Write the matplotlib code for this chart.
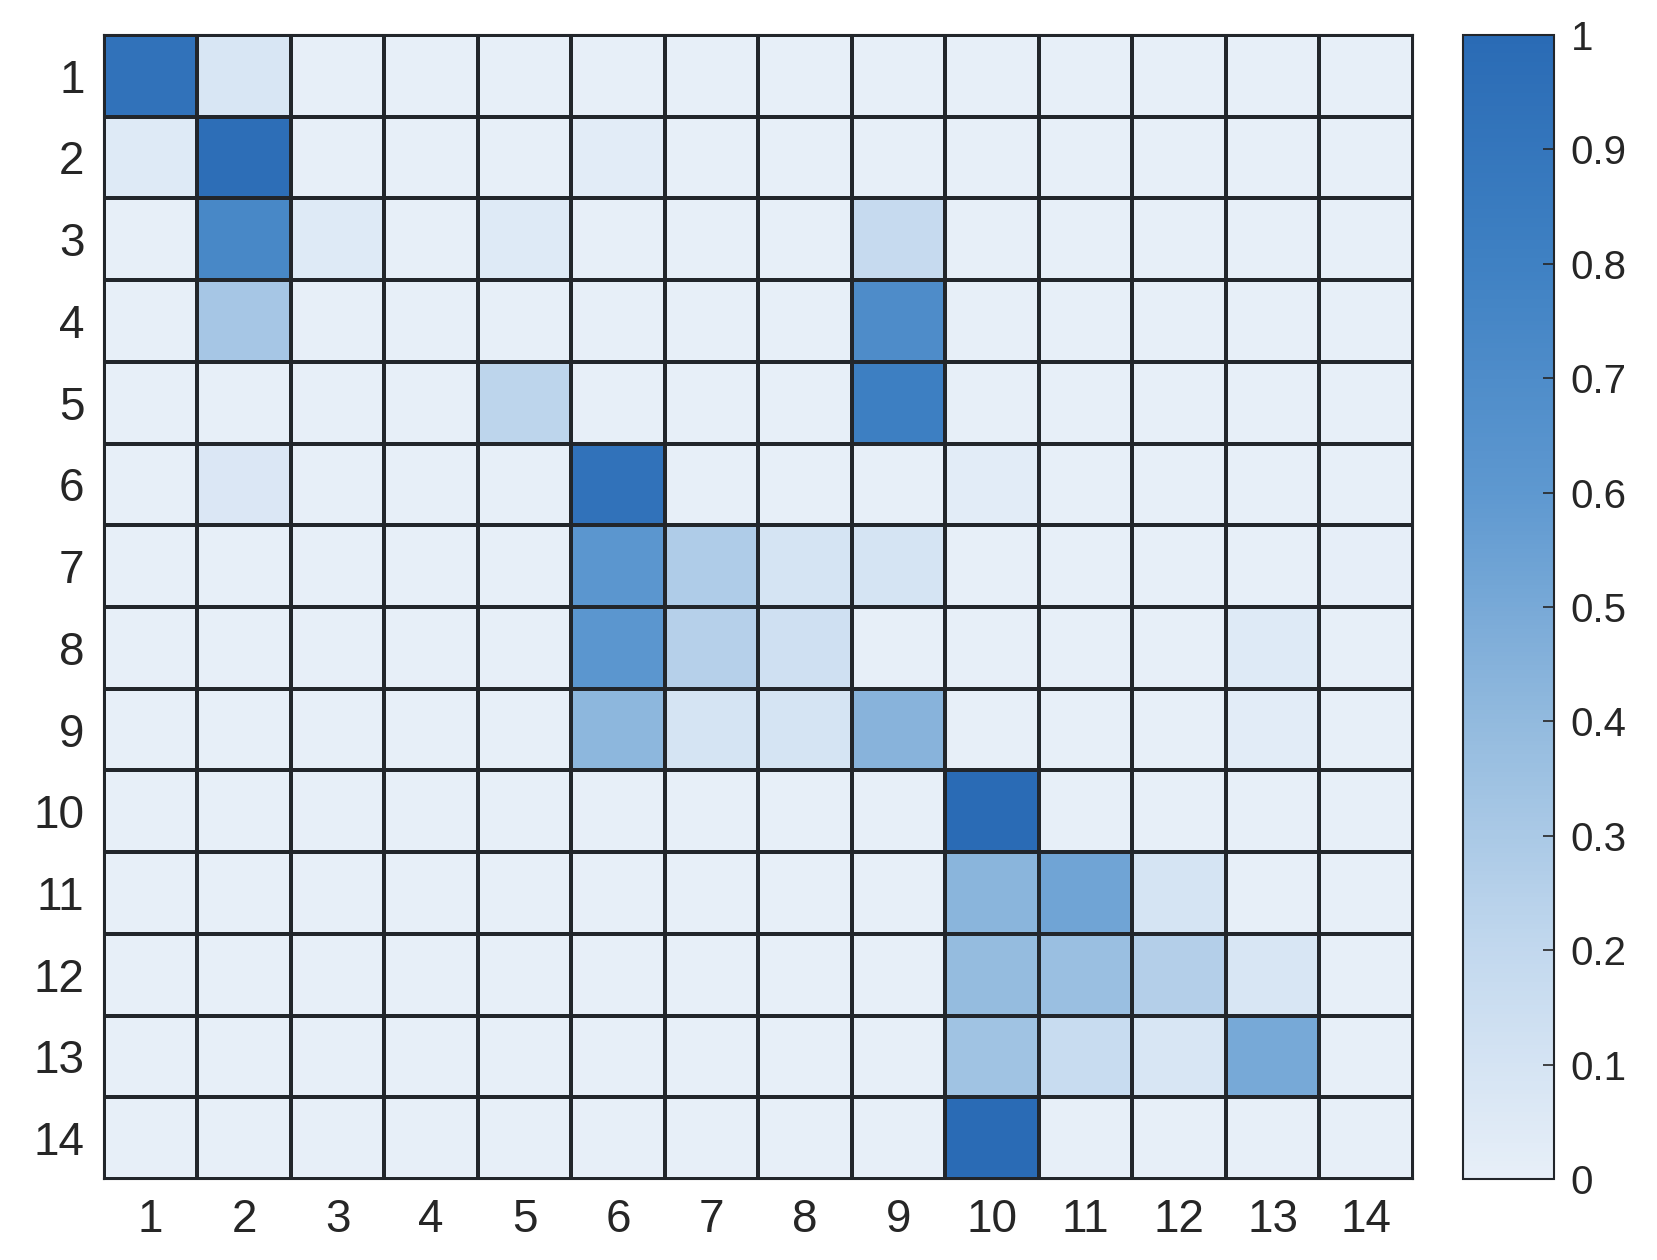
import matplotlib
matplotlib.use('Agg')
import matplotlib.pyplot as plt
import numpy as np
from matplotlib.colors import LinearSegmentedColormap

plt.rcParams['font.family'] = ['Liberation Sans', 'DejaVu Sans']

labels = [str(i) for i in range(1, 15)]

# row values (row i -> list of 14 columns)
row1 = [0.93, 0.08, 0, 0, 0, 0, 0, 0, 0, 0, 0, 0, 0, 0]
row2 = [0.05, 0.97, 0, 0, 0, 0.03, 0, 0, 0, 0, 0, 0, 0, 0]
row3 = [0, 0.74, 0.05, 0, 0.05, 0, 0, 0, 0.18, 0, 0, 0, 0, 0]
row4 = [0, 0.32, 0, 0, 0, 0, 0, 0, 0.70, 0, 0, 0, 0, 0]
row5 = [0, 0, 0, 0, 0.22, 0, 0, 0, 0.82, 0, 0, 0, 0, 0]
row6 = [0, 0.07, 0, 0, 0, 0.93, 0, 0, 0, 0.03, 0, 0, 0, 0]
row7 = [0, 0, 0, 0, 0, 0.62, 0.28, 0.10, 0.10, 0, 0, 0, 0, 0.01]
row8 = [0, 0, 0, 0, 0, 0.62, 0.25, 0.13, 0, 0, 0, 0, 0.05, 0]
row9 = [0, 0, 0, 0, 0, 0.42, 0.10, 0.10, 0.44, 0, 0, 0, 0.03, 0]
row10 = [0, 0, 0, 0, 0, 0, 0, 0, 0, 1.0, 0, 0, 0, 0]
row11 = [0, 0, 0, 0, 0, 0, 0, 0, 0, 0.43, 0.53, 0.10, 0, 0]
row12 = [0, 0, 0, 0, 0, 0, 0, 0, 0, 0.39, 0.37, 0.26, 0.08, 0]
row13 = [0, 0, 0, 0, 0, 0, 0, 0, 0, 0.34, 0.17, 0.08, 0.50, 0]
row14 = [0, 0, 0, 0, 0, 0, 0, 0, 0, 1.0, 0, 0, 0, 0]

data = np.array([row1, row2, row3, row4, row5, row6, row7, row8, row9,
                 row10, row11, row12, row13, row14])

cmap = LinearSegmentedColormap.from_list('blues', [
    (0.0, '#e7eff8'),
    (0.2, '#c2d8ee'),
    (0.4, '#92bade'),
    (0.6, '#5e98d0'),
    (0.8, '#3f81c3'),
    (1.0, '#2a6bb5'),
])

fig = plt.figure(figsize=(16.58, 12.6), dpi=100)
ax = fig.add_axes([0.0627, 0.0643, 0.7895, 0.908])
cax = fig.add_axes([0.8824, 0.0643, 0.0549, 0.908])

x = np.arange(15) + 0.5
mesh = ax.pcolormesh(x, x, data, cmap=cmap, vmin=0, vmax=1,
                     edgecolors='#22262b', linewidth=1.5)
ax.set_xlim(0.5, 14.5)
ax.set_ylim(14.5, 0.5)
ax.set_xticks(range(1, 15))
ax.set_yticks(range(1, 15))
ax.set_xticklabels(labels)
ax.set_yticklabels(labels)
ax.tick_params(length=0, labelsize=33, colors='#262626', pad=14)
for s in ax.spines.values():
    s.set_color('#22262b')
    s.set_linewidth(1.5)

cb = fig.colorbar(mesh, cax=cax)
cb.set_ticks(np.arange(0, 1.01, 0.1))
cb.set_ticklabels(['0', '0.1', '0.2', '0.3', '0.4', '0.5', '0.6', '0.7', '0.8', '0.9', '1'])
cax.tick_params(direction='in', length=8, width=1.2, labelsize=29, colors='#262626', pad=12)
cb.outline.set_edgecolor('#22262b')
cb.outline.set_linewidth(1.5)

fig.savefig('out.png', dpi=100)
